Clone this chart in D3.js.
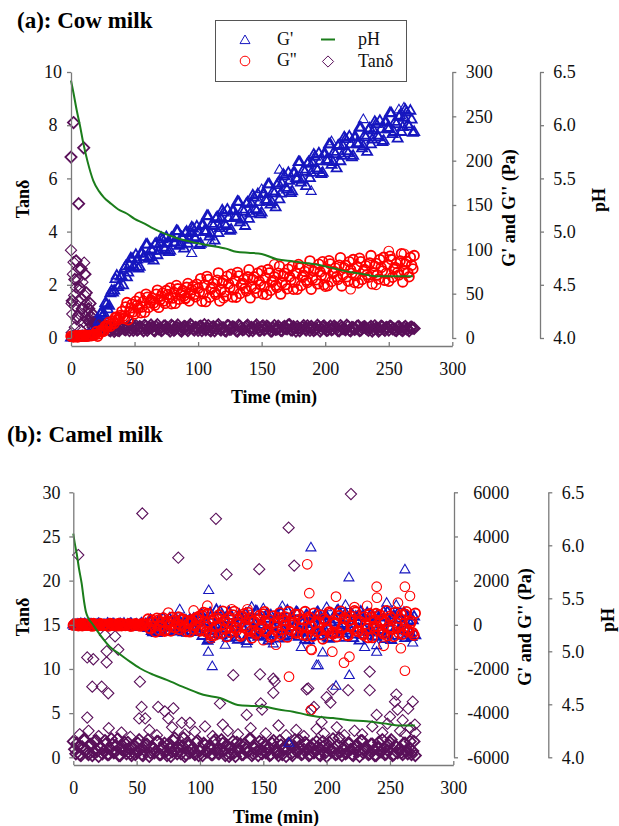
<!DOCTYPE html>
<html>
<head>
<meta charset="utf-8">
<script src="https://cdn.jsdelivr.net/npm/d3@7"></script>
<style>
  body { margin: 0; background: #fff; }
  svg { display: block; }
</style>
</head>
<body>
<svg id="chart" width="619" height="826"></svg>
<script>
// sampling times (min): even minutes and odd minutes, shared by both milks
const evenTime = [0,2,4,6,8,10,12,14,16,18,20,22,24,26,28,30,32,34,36,38,40,42,44,46,48,50,52,54,56,58,
  60,62,64,66,68,70,72,74,76,78,80,82,84,86,88,90,92,94,96,98,100,102,104,106,108,110,112,114,116,118,
  120,122,124,126,128,130,132,134,136,138,140,142,144,146,148,150,152,154,156,158,160,162,164,166,168,170,
  172,174,176,178,180,182,184,186,188,190,192,194,196,198,200,202,204,206,208,210,212,214,216,218,220,222,
  224,226,228,230,232,234,236,238,240,242,244,246,248,250,252,254,256,258,260,262,264,266,268,270];
const oddTime = [1,3,5,7,9,11,13,15,17,19,21,23,25,27,29,31,33,35,37,39,41,43,45,47,49,51,53,55,57,59,
  61,63,65,67,69,71,73,75,77,79,81,83,85,87,89,91,93,95,97,99,101,103,105,107,109,111,113,115,117,119,
  121,123,125,127,129,131,133,135,137,139,141,143,145,147,149,151,153,155,157,159,161,163,165,167,169,171,
  173,175,177,179,181,183,185,187,189,191,193,195,197,199,201,203,205,207,209,211,213,215,217,219,221,223,
  225,227,229,231,233,235,237,239,241,243,245,247,249,251,253,255,257,259,261,263,265,267,269];

// ---- (a) cow milk ----
const cowGp = [1.0,1.8,0.6,1.4,2.2,1.5,2.8,3.5,4.6,7.0,
  9,20,29,28,39,37,54,54,71,60,
  70,79,69,83,90,80,89,81,96,92,
  106,92,99,106,94,107,112,101,108,99,
  113,108,121,106,113,119,107,119,124,113,
  120,107,128,120,138,118,127,135,119,135,
  142,127,136,123,144,136,154,134,143,152,
  135,152,159,144,154,142,163,155,174,154,
  164,173,157,175,183,168,178,166,187,180,
  199,179,188,197,181,198,205,190,200,187,
  208,200,219,199,208,217,200,217,225,209,
  219,206,227,219,238,217,227,235,219,235,
  242,227,236,223,244,236,254,233,242,250,
  233,249,255,239,247,233];
const cowGpOdd = [1.4,0.9,1.9,1.2,2.6,1.8,3.2,4.1,5.8,9.5,
  12,28,26,40,33,51,52,67,58,70,
  60,81.5,74.5,90.5,81,94.5,79,96,92,106,
  90,100.5,88,107.5,99,113.5,102.5,114.5,97.5,113.5,
  108.5,121.5,104.5,114.5,101.5,120.5,111.5,125.5,114.5,126.5,
  105.5,128,121.5,138.5,115,129.5,110.5,137,124.5,144.5,
  129,145.5,121.5,144,137.5,154.5,131,145.5,127,153.5,
  141,161.5,146,163,140,163,156.5,174,151,166,
  148,175,163.5,185,170,187,164,187,181,199,
  176,190.5,172,199,187,207.5,192,209,185.5,208,
  201.5,219,196,210.5,192,218.5,206,227,211.5,228,
  204.5,227,220.5,238,214.5,229,210.5,237,224.5,244.5,
  229,245.5,221.5,244,237.5,254.5,230.5,244.5,225.5,251.5,
  238.5,258,241.5,257,232];
const cowGpExtra = [[189,166],[95,96],[110,108],[230,247],[258,258],[262,260],[164,190],[150,168],[205,222]];

const cowGpp = [2.0,1.2,2.6,1.5,3.0,2.2,1.8,3.2,2.5,4.0,
  7.3,4.8,9.0,7.8,13.0,17.8,16.0,16.5,23.5,23.3,
  30,22,40,29,38,27,37,46,35,29,
  46,40,45,37,54,43,50.5,39,49,56.5,
  45,39,55.5,49,53.5,45,61.5,50,58,46.5,
  56,67,50,41,66,55,61.5,49,73.5,54,
  65,47.5,61,72,54.5,46,70,59.5,66,53,
  77,57.5,69,51,64,75.5,58,49,73.5,63,
  69,57,81,62,73,55.5,69,81,63,55,
  79,68.5,75,62.5,87,67,78.5,61,74.5,86,
  68,59,83.5,73,79,66,90.5,71,82,64,
  77,88.5,70.5,62,86,75,81.5,68.5,93,73,
  84,66.5,79.5,91,73,64,88.5,77.5,84,71,
  95,75.5,86.5,69,82,93];
const cowGppOdd = [1.5,2.4,1.1,2.8,1.9,3.4,2.1,2.9,3.0,3.8,
  2.0,7.3,7.5,13.5,13.2,13.3,19.2,23.5,20.5,25.5,
  24.5,35,20.5,34,29.5,41.5,34,28.5,41.5,49.5,
  34.5,42.5,39.5,49.5,34.5,47.2,41.7,53.5,45.2,38.7,
  51.5,59.2,43.7,51.2,47.7,57.2,41.7,54.5,49.2,60.7,
  52,41.5,60,69.5,46,57.2,51.7,65.2,41.7,62,
  52.2,69.7,57,46.2,64.7,74,50.2,61.7,56,69,
  45.2,65.7,56,73,60.2,49.7,68,77.2,53.7,65,
  59.5,73,49.5,70,60.2,77.7,65.5,55,73.5,83,
  59.2,70.7,65.2,78.7,55,75.2,65.7,83.2,70.7,60,
  78,87.2,63.7,75,69,82.2,58.7,79,69,86,
  73.2,62.5,80.7,90,66,77.2,71.5,84.7,61,81,
  71.2,88.5,75.7,65,83,92.2,68.5,79.7,74,87,
  63.2,83.5,73.7,91,78];
const cowGppExtra = [[250,98],[262,95],[160,83],[200,58],[220,55],[120,45],[90,44],[240,60]];

const cowTan = [6.8,8.1,2.9,5.05,2.6,7.15,1.7,1.1,0.8,0.6,
  0.62,0.48,0.55,0.36,0.44,0.30,0.38,0.25,0.33,0.28,
  0.45,0.32,0.40,0.28,0.52,0.36,0.30,0.43,0.34,0.48,0.29,0.39,
  0.41,0.27,0.50,0.35,0.31,0.46,0.38,0.26,0.44,0.33,0.49,0.30,
  0.37,0.42,0.28,0.51,0.34,0.40,0.29,0.45,0.36,0.31,0.47,0.27,
  0.43,0.35,0.50,0.30,0.38,0.26,0.46,0.33,0.41,0.28,0.48,0.37,
  0.32,0.44,0.27,0.40,0.35,0.49,0.29,0.42,0.31,0.45,0.36,0.26,
  0.47,0.33,0.39,0.28,0.44,0.34,0.50,0.30,0.37,0.43,0.27,0.41,
  0.35,0.46,0.29,0.38,0.32,0.48,0.26,0.42,0.36,0.30,0.45,0.33,
  0.40,0.28,0.47,0.35,0.31,0.43,0.27,0.39,0.34,0.46,0.30,0.41,
  0.37,0.29,0.44,0.32,0.38,0.26,0.45,0.33,0.40,0.30,0.42,0.35,
  0.28,0.43,0.31,0.39,0.34,0.27,0.41,0.36];
const cowTanOdd = [1.4,2.2,0.8,1.9,1.1,2.4,0.7,1.3,0.9,0.5,
  0.52,0.40,0.47,0.33,0.38,0.27,0.35,0.31,0.29,0.36,
  0.38,0.31,0.44,0.36,0.29,0.47,0.33,0.40,0.27,0.43,0.35,0.49,
  0.30,0.42,0.34,0.28,0.45,0.37,0.32,0.48,0.29,0.41,0.36,0.26,
  0.44,0.33,0.39,0.46,0.30,0.37,0.43,0.28,0.50,0.35,0.31,0.40,
  0.27,0.45,0.34,0.38,0.29,0.47,0.32,0.42,0.36,0.26,0.44,0.31,
  0.39,0.48,0.33,0.28,0.43,0.37,0.30,0.46,0.35,0.41,0.27,0.38,
  0.32,0.45,0.29,0.40,0.36,0.49,0.31,0.43,0.26,0.37,0.34,0.47,
  0.30,0.39,0.44,0.28,0.35,0.42,0.33,0.46,0.29,0.38,0.31,0.45,
  0.36,0.27,0.41,0.34,0.48,0.30,0.40,0.32,0.44,0.28,0.37,0.43,
  0.33,0.39,0.26,0.46,0.35,0.31,0.42,0.29,0.38,0.45,0.34,0.30,
  0.41,0.36,0.28,0.44,0.33,0.40,0.37];
const cowTanExtra = [[0,3.3],[0.5,1.3],[0.5,0.2],[1,0.9],[1.5,2.4],[2,2.85],[2.5,1.6],[3,1.2],[3,0.4],
  [4,1.9],[4.5,0.7],[5,2.2],[5.5,1.4],[6,2.6],[6.5,0.9],[7,1.8],[7.5,0.3],[8,1.5],[8.5,1.1],[9,2.1],
  [9.5,0.6],[10.4,2.83],[10.5,1.2],[11,1.6],[11.5,0.8],[12,1.3],[12.5,0.5],[13,0.9],[14,0.6],[15,0.7],
  [16,0.5],[17,0.4],[19,0.45],[21,0.5],[23,0.4]];

const cowPhTime = [0,2,4.5,7,9.7,13,17.5,22,26,30.7,37,43.8,50,57,63,70,83,96,109,122,130,141,150,162,175,193,205,219,230,240,255,269];
const cowPh = [6.42,6.30,6.14,6.00,5.83,5.66,5.48,5.38,5.32,5.27,5.21,5.17,5.12,5.08,5.04,5.00,4.94,4.90,4.87,4.84,4.81,4.80,4.79,4.74,4.72,4.69,4.66,4.62,4.60,4.58,4.58,4.58];

// ---- (b) camel milk ----
const camelGp = [40,-25,10,55,-40,20,-10,35,-30,15,60,-20,5,-45,30,-15,50,-35,25,-5,70,-50,15,45,-60,30,-25,80,-40,20,
  180,-260,60,-350,240,-110,20,-300,310,-80,130,-280,200,-150,90,-340,260,-60,150,-230,
  350,-480,120,-700,560,-220,40,-390,620,-150,
  260,-560,430,-320,90,-650,380,-90,510,-430,
  170,-280,640,-520,20,-360,300,-700,450,-120,
  220,-600,580,-250,110,-440,350,-80,600,-520,
  180,-330,470,-680,60,-210,540,-460,250,-150,
  400,-610,130,-370,620,-240,70,-560,330,-100,
  500,-420,210,-690,380,-180,560,-330,40,-500,
  450,-260,150,-620,600,-90,280,-470,520,-200,
  90,-580,410,-340,230,-450];
const camelGpOdd = [-30,25,-50,15,45,-20,35,-10,-55,20,40,-35,10,65,-25,30,-45,5,55,-15,-40,25,60,-30,15,-65,35,-20,50,
  -120,240,-310,90,180,-200,330,-40,-270,160,-90,290,-180,50,-320,220,110,-250,300,-140,
  -300,510,-90,180,-620,430,-260,700,-40,-450,
  290,-170,590,-380,120,-540,480,-60,350,-710,
  230,-320,80,620,-470,160,-230,520,-600,30,
  -380,460,-140,300,-520,670,-70,210,-350,560,
  -260,90,-640,410,-180,330,-490,600,-20,-300,
  470,-550,140,-410,260,680,-120,-360,540,-230,
  60,-580,390,-150,620,-440,200,-300,500,-80,
  -520,350,-200,610,-390,120,-660,440,-60,310,
  -450,570,-280,170,-530,400];
const camelGpExtra = [[106.9,1577],[187.6,3511],[140.8,820],[217.6,2152],[261.8,2514],[247.4,1000],[214.9,900],
  [106.6,-1217],[109.7,-1865],[136.8,-837],[157.9,-837],[192,-1820],[170.2,-5340],[193.4,-1820],
  [217.9,-2270],[207.4,-2757],[196.9,-1245],[239.5,-914],[239.5,-1217],[84,700],[120,-900],[165,850],
  [230,-1000],[255,900],[268,-800],[180,-1000],[200,800],[150,750]];

const camelGpp = [-20,30,-45,15,50,-10,25,-35,60,-5,-30,40,-15,20,-55,35,-25,10,65,-40,20,-15,45,-60,5,30,-20,55,-10,40,
  -150,220,-60,300,-240,110,-290,170,-20,340,-130,60,-210,260,-90,190,-320,140,-40,280,
  -280,420,-90,510,-380,190,-460,300,-30,620,
  -200,80,-350,450,-120,270,-520,380,-60,560,
  -290,150,-410,230,-180,490,-330,60,-560,400,
  -100,320,-440,180,-20,600,-260,90,-380,470,
  -150,240,-500,350,-70,530,-310,120,-450,280,
  -190,580,-360,40,-540,420,-130,310,-470,200,
  -30,640,-280,110,-400,360,-160,500,-580,230,
  -80,450,-340,150,-490,390,-210,560,-120,270,
  -430,480,-250,60,-360,520];
const camelGppOdd = [35,-20,55,-40,10,-25,45,-60,20,-5,50,-30,15,-45,60,-10,30,-50,5,40,-35,25,-55,15,45,-20,-60,35,-15,
  260,-180,120,-330,210,-50,310,-220,90,-280,170,-110,350,-30,240,-300,60,200,-190,320,
  380,-210,560,-320,110,-490,270,-60,450,-390,
  190,-540,330,-120,610,-250,40,-430,500,-170,
  280,-600,150,-360,420,-80,590,-270,220,-480,
  90,-310,540,-200,370,-560,130,-20,480,-340,
  250,-450,600,-150,310,-520,70,-290,450,-640,
  180,-230,530,-410,90,-350,620,-110,260,-500,
  390,-180,570,-300,140,-460,40,-580,330,-90,
  510,-260,200,-420,640,-140,300,-530,80,-370,
  460,-210,590,-320,170,-470];
const camelGppExtra = [[184.7,2740],[186.3,1430],[105.8,866],[137.5,700],[207.4,1275],[239.5,1727],[239.7,1228],
  [261.8,1727],[265.8,1305],[256.3,1000],[232,860],[222,800],[108.7,-610],[170.3,-2350],[187.6,-1110],
  [187.6,-3860],[188.2,-1140],[204.5,-1217],[213.7,-1717],[218,-1444],[261.8,-2080],[258.6,-1063],
  [95,650],[75,550],[125,700],[160,-900],[245,-950],[150,-700]];

const camelTan = [1.8,0.4,1.2,0.2,2.0,0.9,0.3,1.5,0.6,1.9,0.1,1.1,
  0.7,1.6,0.3,2.1,0.5,1.3,0.2,0.9,1.7,0.4,1.0,0.2,
  1.4,0.6,2.0,0.3,0.8,1.5,0.1,1.2,0.5,1.8,0.3,0.9,
  1.6,0.2,1.1,0.6,2.2,0.4,0.8,1.3,0.1,1.7,0.5,1.0,
  0.3,1.9,0.7,0.2,1.4,0.6,1.1,0.3,2.0,0.5,0.9,1.6,
  0.2,1.2,0.4,1.8,0.1,0.8,1.5,0.3,1.0,0.6,2.1,0.4,
  1.3,0.2,0.9,1.7,0.5,1.1,0.3,1.9,0.6,0.2,1.4,0.8,
  0.1,1.6,0.4,1.2,0.7,2.0,0.3,0.9,1.5,0.2,1.1,0.5,
  1.8,0.3,0.8,1.3,0.1,1.7,0.6,1.0,0.4,2.2,0.2,1.2,
  0.5,1.6,0.3,0.9,1.4,0.1,1.9,0.7,1.0,0.4,1.5,0.2,
  1.1,0.6,2.0,0.3,0.8,1.7,0.2,1.3,0.5,1.0,0.3,1.6,
  0.4,1.8,0.7,0.2];
const camelTanOdd = [0.9,1.6,0.3,1.2,2.0,0.5,1.4,0.2,1.8,0.7,1.1,0.4,
  1.9,0.3,1.0,1.5,0.6,2.1,0.2,1.3,0.8,1.7,0.4,1.1,
  0.3,1.6,0.9,0.2,1.4,2.0,0.5,1.0,0.7,1.8,0.3,1.2,
  0.6,1.5,0.1,1.9,0.8,1.1,0.4,2.2,0.3,1.3,0.9,0.5,
  1.7,0.2,1.0,1.6,0.6,1.2,0.3,1.8,0.8,0.4,2.0,0.7,
  1.4,0.1,1.1,0.5,1.7,0.9,0.3,1.5,0.6,2.1,0.2,1.0,
  0.7,1.8,0.4,1.3,0.9,0.2,1.6,1.1,0.5,1.9,0.3,1.2,
  0.8,1.4,0.2,2.0,0.6,1.0,0.4,1.7,0.9,0.3,1.5,0.7,
  1.2,0.2,1.8,0.5,1.1,0.8,2.1,0.3,1.4,0.6,1.0,0.4,
  1.6,0.9,0.2,1.3,0.7,1.9,0.5,1.1,0.3,1.5,0.8,0.2,
  1.7,0.6,1.0,0.4,1.4,2.0,0.3,1.2,0.9,0.5,1.6,0.7,
  1.1,0.3,1.8];
const camelTanExtra = [[3.9,22.9],[54.5,27.6],[82.9,22.6],[112.6,27.0],[121,20.7],[146.8,21.3],[170,26.0],[174.4,21.7],[219.2,29.8],
  [11,11.3],[15.8,11.1],[15,8.0],[22.4,8.0],[27.6,7.25],[11,4.5],[25,13.85],[33,13.7],[26.3,12.0],[26.3,10.75],
  [35.5,12.2],[52.6,8.56],[53.9,5.7],[52,4.4],[56.8,4.4],[67,5.7],[72.3,5.2],[79,5.55],[75,4.4],[85.6,3.9],
  [92,3.9],[115.8,6.1],[118,3.7],[126.3,9.3],[147.4,9.4],[157.9,8.9],[159,8.6],[157.9,7.3],[148,6.1],[149,5.4],
  [136.9,4.8],[185.5,7.8],[188,5.4],[184.2,7.7],[200,6.8],[203,6.2],[205,7.7],[217,7.6],[234,9.7],[234,7.6],
  [239.5,4.8],[255,7.1],[254,6.3],[264.4,5.5],[268,6.3],[269.7,3.7],[250,4.6],[256,5.4],[260,4.2],[190,5.7],[196,4.0],
  [5,2.6],[12,3.0],[20,2.4],[28,3.3],[38,2.8],[45,2.3],[60,3.1],[66,2.5],[78,3.4],[88,2.6],[96,2.9],[104,3.5],
  [110,2.4],[122,3.0],[130,2.6],[140,3.3],[152,2.7],[162,3.6],[168,2.5],[176,3.1],[182,2.4],[192,3.2],[198,2.7],
  [208,3.4],[214,2.5],[222,3.0],[228,2.6],[236,3.5],[244,2.8],[248,3.8],[258,3.0],[262,2.6],[266,3.3],[270,2.8]];

const camelPhTime = [0,1,2.7,4.5,6.6,8.5,10,12,15,18.5,24,29,37,45,52.6,63,73.7,89.5,102.6,115.8,131.6,150,162,173.6,185,194.7,205,218,231.6,245,257.9,269.7];
const camelPh = [6.11,6.03,5.92,5.78,5.64,5.47,5.37,5.31,5.26,5.20,5.11,5.04,4.97,4.90,4.84,4.78,4.73,4.65,4.59,4.56,4.49,4.48,4.45,4.43,4.40,4.38,4.37,4.35,4.34,4.32,4.30,4.30];

// ticks
const timeTicks = [0,50,100,150,200,250,300];
const phTicks = [4.0,4.5,5.0,5.5,6.0,6.5];
const cowTanTicks = [0,2,4,6,8,10];
const cowGTicks = [0,50,100,150,200,250,300];
const camelTanTicks = [0,5,10,15,20,25,30];
const camelGTicks = [-6000,-4000,-2000,0,2000,4000,6000];

const col = { gp: "#1616bf", gpp: "#ff0000", tan: "#5a105a", ph: "#1b7d1b", axis: "#7a7a7a" };
const triangle = "M0,-5L5,3.6L-5,3.6Z";
const diamond = "M0,-5.6L5.6,0L0,5.6L-5.6,0Z";

const svg = d3.select("#chart");

function styleAxis(sel) {
    sel.attr("font-size", 18).attr("font-family", null);
    sel.select(".domain").attr("stroke", col.axis).attr("stroke-width", 1.3);
    sel.selectAll(".tick line").attr("stroke", col.axis).attr("stroke-width", 1.3);
    sel.selectAll(".tick text").attr("fill", "#111");
}

// join the even and odd readings into [t, value] pairs
function pairs(even, odd) {
    return evenTime.map((t, i) => [t, even[i]])
        .concat(oddTime.map((t, i) => [t, odd[i]]))
        .sort((a, b) => a[0] - b[0]);
}

// draw one marker series: dense readings with a heavier stroke, stray points lighter
function markers(g, pts, extra, shape, x, y, colour) {
    var all = pts.map(d => [d[0], d[1], 1.8]).concat(extra.map(d => [d[0], d[1], 1.1]));
    var sel = g.append("g").selectAll(".m").data(all).join(shape === "circle" ? "circle" : "path");
    if (shape === "circle") {
        sel.attr("cx", d => x(d[0])).attr("cy", d => y(d[1])).attr("r", 4.8);
    } else {
        sel.attr("d", shape).attr("transform", d => "translate(" + x(d[0]) + "," + y(d[1]) + ")");
    }
    sel.attr("fill", "none").attr("stroke", colour).attr("stroke-width", d => d[2]);
}

function drawPanel(p) {
    var g = svg.append("g");
    var x = d3.scaleLinear().domain([0, 300]).range([p.left, p.right]);
    var yTan = d3.scaleLinear().domain(p.tanDomain).range([p.bottom, p.top]);
    var yG = d3.scaleLinear().domain(p.gDomain).range([p.bottom, p.top]);
    var yPh = d3.scaleLinear().domain([4, 6.5]).range([p.bottom, p.top]);

    markers(g, pairs(p.tan, p.tanOdd), p.tanExtra, diamond, x, yTan, col.tan);
    markers(g, pairs(p.gp, p.gpOdd), p.gpExtra, triangle, x, yG, col.gp);
    markers(g, pairs(p.gpp, p.gppOdd), p.gppExtra, "circle", x, yG, col.gpp);

    // pH line
    var line = d3.line().x(d => x(d[0])).y(d => yPh(d[1])).curve(d3.curveMonotoneX);
    g.append("path")
        .datum(p.phTime.map((t, i) => [t, p.ph[i]]))
        .attr("fill", "none").attr("stroke", col.ph).attr("stroke-width", 2)
        .attr("d", line);

    // x axis, sits a little below the plot, ticks inward
    g.append("g").attr("transform", "translate(0," + p.xAxisY + ")")
        .call(d3.axisBottom(x).tickValues(timeTicks).tickSizeInner(-4).tickSizeOuter(0).tickPadding(16))
        .call(styleAxis);

    // left axis: tan delta
    var la = g.append("g").attr("transform", "translate(" + p.left + ",0)")
        .call(d3.axisLeft(yTan).tickValues(p.tanTicks).tickSize(4).tickSizeOuter(0))
        .call(styleAxis);
    la.selectAll(".tick text").attr("text-anchor", p.tanAnchor).attr("x", p.tanLabelX - p.left);

    // right axis: G' and G''
    var ga = g.append("g").attr("transform", "translate(" + p.gAxisX + ",0)")
        .call(d3.axisRight(yG).tickValues(p.gTicks).tickSize(4).tickSizeOuter(0).tickFormat(d => String(d)))
        .call(styleAxis);
    ga.selectAll(".tick text").attr("x", d => p.gLabelX - p.gAxisX - (d < 0 ? 6 : 0));

    // far right axis: pH
    var pa = g.append("g").attr("transform", "translate(" + p.phAxisX + ",0)")
        .call(d3.axisRight(yPh).tickValues(phTicks).tickSize(4).tickSizeOuter(0).tickFormat(d3.format(".1f")))
        .call(styleAxis);
    pa.selectAll(".tick text").attr("x", p.phLabelX - p.phAxisX);

    // titles
    g.append("text").attr("x", p.titleX).attr("y", p.titleY)
        .attr("font-size", 23).attr("font-weight", "bold").text(p.title);

    g.append("text").attr("x", p.timeX).attr("y", p.timeY)
        .attr("text-anchor", "middle").attr("font-size", 18).attr("font-weight", "bold")
        .text("Time (min)");

    [[p.tanTitle, "Tan\u03b4"], [p.gTitle, "G' and G'' (Pa)"], [p.phTitle, "pH"]].forEach(function (a) {
        g.append("text")
            .attr("transform", "translate(" + (a[0][0] + 6) + "," + a[0][1] + ") rotate(-90)")
            .attr("text-anchor", "middle").attr("font-size", 18).attr("font-weight", "bold")
            .text(a[1]);
    });
}

drawPanel({
    title: "(a): Cow milk", titleX: 17, titleY: 28,
    left: 71, right: 452.3, top: 72, bottom: 338, xAxisY: 346,
    gAxisX: 452.3, phAxisX: 540,
    tanDomain: [0, 10], gDomain: [0, 300],
    tanTicks: cowTanTicks, gTicks: cowGTicks,
    tanAnchor: "middle", tanLabelX: 53, gLabelX: 465.7, phLabelX: 553.3,
    tan: cowTan, tanOdd: cowTanOdd, tanExtra: cowTanExtra,
    gp: cowGp, gpOdd: cowGpOdd, gpExtra: cowGpExtra,
    gpp: cowGpp, gppOdd: cowGppOdd, gppExtra: cowGppExtra,
    phTime: cowPhTime, ph: cowPh,
    tanTitle: [22.5, 199], gTitle: [509, 208], phTitle: [599, 200],
    timeX: 274, timeY: 403
});

drawPanel({
    title: "(b): Camel milk", titleX: 7, titleY: 442,
    left: 73.3, right: 453.3, top: 492.3, bottom: 757.3, xAxisY: 765,
    gAxisX: 454, phAxisX: 548.3,
    tanDomain: [0, 30], gDomain: [-6000, 6000],
    tanTicks: camelTanTicks, gTicks: camelGTicks,
    tanAnchor: "end", tanLabelX: 60.5, gLabelX: 473.3, phLabelX: 561.7,
    tan: camelTan, tanOdd: camelTanOdd, tanExtra: camelTanExtra,
    gp: camelGp, gpOdd: camelGpOdd, gpExtra: camelGpExtra,
    gpp: camelGpp, gppOdd: camelGppOdd, gppExtra: camelGppExtra,
    phTime: camelPhTime, ph: camelPh,
    tanTitle: [23, 617], gTitle: [525, 627], phTitle: [608, 620],
    timeX: 276, timeY: 823
});

// legend (panel a only)
var lg = svg.append("g");
lg.append("rect").attr("x", 215.5).attr("y", 20.5).attr("width", 191).attr("height", 61)
    .attr("fill", "#fff").attr("stroke", "#555").attr("stroke-width", 1);
lg.append("path").attr("d", triangle).attr("transform", "translate(245,40)")
    .attr("fill", "none").attr("stroke", col.gp);
lg.append("circle").attr("cx", 245).attr("cy", 61).attr("r", 4.8)
    .attr("fill", "none").attr("stroke", col.gpp);
lg.append("line").attr("x1", 321).attr("x2", 335).attr("y1", 39.5).attr("y2", 39.5)
    .attr("stroke", col.ph).attr("stroke-width", 2);
lg.append("path").attr("d", diamond).attr("transform", "translate(328,61.5)")
    .attr("fill", "none").attr("stroke", col.tan);
[["G'", 277, 45], ["G''", 277, 66], ["pH", 358, 45], ["Tan\u03b4", 358, 67]].forEach(function (d) {
    lg.append("text").attr("x", d[1]).attr("y", d[2]).attr("font-size", 18).attr("fill", "#111").text(d[0]);
});

// Times-like face on every label
svg.selectAll("text").style("font-family", "Liberation Serif");
</script>
</body>
</html>
